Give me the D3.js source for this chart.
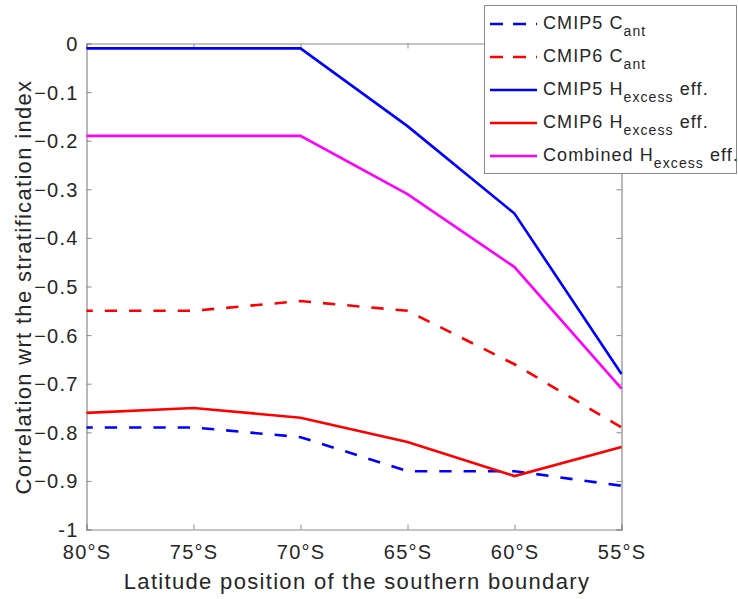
<!DOCTYPE html>
<html>
<head>
<meta charset="utf-8">
<script src="https://cdn.jsdelivr.net/npm/d3@7/dist/d3.min.js"></script>
<style>
  html, body { margin: 0; padding: 0; background: #fff; }
  svg { display: block; font-family: "Liberation Sans", Arial, Helvetica, sans-serif; }
</style>
</head>
<body>
<svg id="chart" width="738" height="599"></svg>
<script>
// Southern boundary latitudes (degrees south) and tick labels
const latitudes = [80, 75, 70, 65, 60, 55];
const xTickLabels = ["80°S", "75°S", "70°S", "65°S", "60°S", "55°S"];
const yTicks = [0, -0.1, -0.2, -0.3, -0.4, -0.5, -0.6, -0.7, -0.8, -0.9, -1];

// Correlation with the stratification index
const cmip5Cant = [-0.79, -0.79, -0.81, -0.88, -0.88, -0.91];
const cmip6Cant = [-0.55, -0.55, -0.53, -0.55, -0.66, -0.79];
const cmip5Hex  = [-0.01, -0.01, -0.01, -0.17, -0.35, -0.68];
const cmip6Hex  = [-0.76, -0.75, -0.77, -0.82, -0.89, -0.83];
const combinedHex = [-0.19, -0.19, -0.19, -0.31, -0.46, -0.71];

const series = [
  { main: "CMIP5 C", sub: "ant", tail: "", values: cmip5Cant, color: "#0000ff", dashed: true },
  { main: "CMIP6 C", sub: "ant", tail: "", values: cmip6Cant, color: "#ff0000", dashed: true },
  { main: "CMIP5 H", sub: "excess", tail: " eff.", values: cmip5Hex, color: "#0000ff", dashed: false },
  { main: "CMIP6 H", sub: "excess", tail: " eff.", values: cmip6Hex, color: "#ff0000", dashed: false },
  { main: "Combined H", sub: "excess", tail: " eff.", values: combinedHex, color: "#ff00ff", dashed: false }
];

const svg = d3.select("#chart");
const m = { left: 86.5, right: 621.5, top: 43.5, bottom: 529.5 };
const axisColor = "#8a8a8a";
const textColor = "#262626";
const track = "0.06em";

const x = d3.scaleLinear().domain([80, 55]).range([m.left, m.right]);
const y = d3.scaleLinear().domain([-1, 0]).range([m.bottom, m.top]);

// Bottom and left axes with labels, inward ticks
const xAxis = svg.append("g").attr("transform", `translate(0,${m.bottom})`)
  .call(d3.axisBottom(x).tickValues(latitudes).tickSize(-5).tickPadding(10)
    .tickFormat((d, i) => xTickLabels[i]));
const yAxis = svg.append("g").attr("transform", `translate(${m.left},0)`)
  .call(d3.axisLeft(y).tickValues(yTicks).tickSize(-5).tickPadding(8)
    .tickFormat(d => d === 0 ? "0" : d === -1 ? "-1" : d3.format(".1f")(d)));
// Top and right box edges with inward ticks
const xTop = svg.append("g").attr("transform", `translate(0,${m.top})`)
  .call(d3.axisTop(x).tickValues(latitudes).tickSize(-5).tickFormat(""));
const yRight = svg.append("g").attr("transform", `translate(${m.right},0)`)
  .call(d3.axisRight(y).tickValues(yTicks).tickSize(-5).tickFormat(""));

[xAxis, yAxis, xTop, yRight].forEach(g => {
  g.select(".domain").attr("stroke", axisColor).attr("stroke-width", 1.2);
  g.selectAll(".tick line").attr("stroke", axisColor);
  g.selectAll(".tick text").attr("fill", textColor).style("font-size", "20px")
    .style("letter-spacing", track)
    .style("font-family", "'Liberation Sans', Arial, sans-serif");
});
xAxis.selectAll(".tick text").attr("dy", "0.95em");
yAxis.selectAll(".tick text").attr("dy", "0.35em");

// Data lines
const line = d3.line().x((d, i) => x(latitudes[i])).y(d => y(d));
series.forEach(s => {
  svg.append("path").datum(s.values)
    .attr("d", line)
    .attr("fill", "none")
    .attr("stroke", s.color)
    .attr("stroke-width", 2.6)
    .attr("stroke-dasharray", s.dashed ? "12.3,12" : null)
    .attr("stroke-dashoffset", s.dashed ? 6 : null);
});

// Axis titles
svg.append("text")
  .attr("x", 357).attr("y", 589)
  .attr("text-anchor", "middle")
  .attr("fill", textColor)
  .style("font-size", "22px")
  .style("letter-spacing", track)
  .text("Latitude position of the southern boundary");
svg.append("text")
  .attr("transform", `translate(31,287) rotate(-90)`)
  .attr("text-anchor", "middle")
  .attr("fill", textColor)
  .style("font-size", "22px")
  .style("letter-spacing", track)
  .text("Correlation wrt the stratification index");

// Legend
const lg = svg.append("g");
lg.append("rect")
  .attr("x", 484.5).attr("y", 5.5).attr("width", 252).attr("height", 168)
  .attr("fill", "#fff").attr("stroke", axisColor).attr("stroke-width", 1);
series.forEach((s, i) => {
  const yy = 24 + i * 33;
  lg.append("line")
    .attr("x1", 490).attr("x2", 537).attr("y1", yy).attr("y2", yy)
    .attr("stroke", s.color).attr("stroke-width", 2.6)
    .attr("stroke-dasharray", s.dashed ? "13,10" : null);
  const t = lg.append("text")
    .attr("x", 543).attr("y", yy + 5)
    .attr("fill", textColor)
    .style("font-size", "18px")
    .style("letter-spacing", track);
  t.append("tspan").text(s.main);
  t.append("tspan").attr("dy", 7).style("font-size", "14px").text(s.sub);
  if (s.tail) t.append("tspan").attr("dy", -7).text(s.tail);
});
</script>
</body>
</html>
